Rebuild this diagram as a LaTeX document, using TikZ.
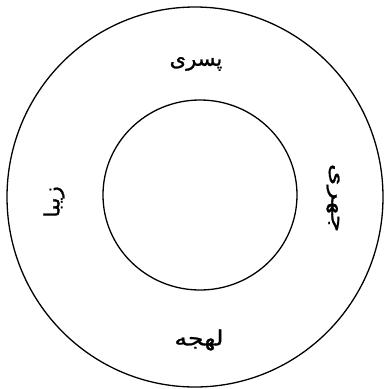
\documentclass[tikz,border=0pt]{standalone}
\usepackage{fontspec}
\newfontfamily\arabicfont[Script=Arabic,FakeBold=1]{DejaVu Sans}
\TeXXeTstate=1
\begin{document}
\begin{tikzpicture}[x=1pt,y=-1pt]
\useasboundingbox (0,0) rectangle (385,389);
\tikzset{ring/.style={draw,line width=1.3pt},
  word/.style={font=\arabicfont\fontsize{21}{24}\selectfont, inner sep=0pt}}
\draw[ring] (195,197) ellipse [x radius=188, y radius=190];
\draw[ring] (200,195) ellipse [x radius=97, y radius=95];
\node[word] (top) at (196,64) {\beginR پسری\endR};
\node[word,rotate=-90] (right) at (333,198) {\scalebox{1.35}[0.95]{\beginR جهری\endR}};
\node[word,rotate=90] (left) at (54,202) {\scalebox{1.1}[1]{\beginR زیبا\endR}};
\node[word] (bottom) at (199,340) {\scalebox{1.2}[1]{\beginR لهجه\endR}};
\end{tikzpicture}
\end{document}
